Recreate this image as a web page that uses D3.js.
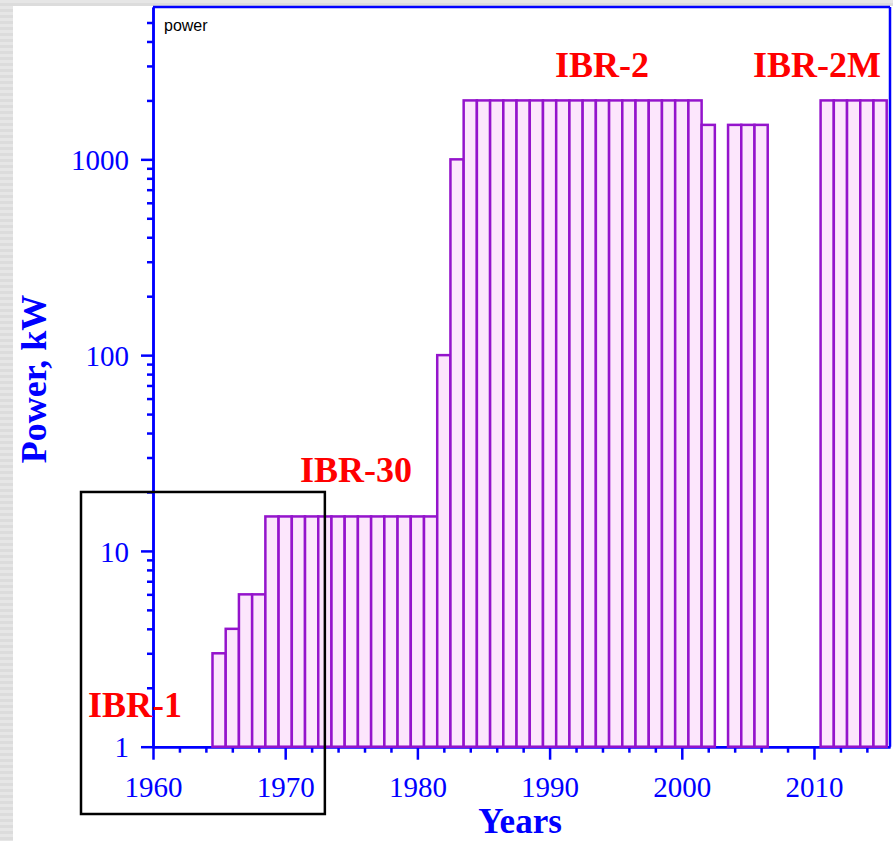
<!DOCTYPE html>
<html>
<head>
<meta charset="utf-8">
<script src="https://cdn.jsdelivr.net/npm/d3@7"></script>
<style>
  html, body { margin: 0; padding: 0; background: #ffffff; }
  svg { display: block; }
</style>
</head>
<body>
<script>
// ---- Data ----
const years = [1960,1961,1962,1963,1964,1965,1966,1967,1968,1969,1970,1971,1972,1973,1974,1975,1976,1977,1978,1979,
  1980,1981,1982,1983,1984,1985,1986,1987,1988,1989,1990,1991,1992,1993,1994,1995,1996,1997,1998,1999,
  2000,2001,2002,2003,2004,2005,2006,2007,2008,2009,2010,2011,2012,2013,2014,2015];
const power = [1,1,1,1,1,3,4,6,6,15,15,15,15,15,15,15,15,15,15,15,
  15,15,100,1000,2000,2000,2000,2000,2000,2000,2000,2000,2000,2000,2000,2000,2000,2000,2000,2000,
  2000,2000,1500,null,1500,1500,1500,1,1,1,1,2000,2000,2000,2000,2000];
const xTicksMajor = [1960, 1970, 1980, 1990, 2000, 2010];
const xTicksMinor = [1962,1964,1966,1968,1972,1974,1976,1978,1982,1984,1986,1988,1992,1994,1996,1998,2002,2004,2006,2008,2012,2014];
const yTicksMajor = [1, 10, 100, 1000];
const yTicksMinor = [2,3,4,5,6,7,8,9,20,30,40,50,60,70,80,90,200,300,400,500,600,700,800,900,2000,3000,4000,5000];
const reactorLabels = ["IBR-1", "IBR-30", "IBR-2", "IBR-2M"];

// ---- Layout ----
const W = 893, H = 841;
const pLeft = 153, pRight = 890, pTop = 7, pBottom = 746.7;
const blue = "#0000ff", purple = "#9414cc", pink = "#fce6fc", red = "#ff0000";
const serif = "'Liberation Serif', 'Times New Roman', serif";

const svg = d3.select("body").append("svg").attr("width", W).attr("height", H);

// slide background strips
const defs = svg.append("defs");
const pat = defs.append("pattern").attr("id", "stripes").attr("patternUnits", "userSpaceOnUse")
  .attr("width", 8).attr("height", 6);
pat.append("rect").attr("width", 8).attr("height", 6).attr("fill", "#e6e6e6");
pat.append("rect").attr("y", 3).attr("width", 8).attr("height", 3).attr("fill", "#dcdcdc");
svg.append("rect").attr("width", W).attr("height", H).attr("fill", "url(#stripes)");
svg.append("rect").attr("x", 13).attr("y", 6).attr("width", W - 13).attr("height", H - 6).attr("fill", "#ffffff");

defs.append("clipPath").attr("id", "plotclip").append("rect")
  .attr("x", pLeft).attr("y", pTop - 2).attr("width", pRight - pLeft).attr("height", pBottom - pTop + 4);

const x = d3.scaleLinear().domain([1960, 2015.75]).range([pLeft, pRight]);
const y = d3.scaleLog().domain([1, 6000]).range([pBottom, pTop]);

// frame (top and right)
svg.append("line").attr("x1", pLeft).attr("x2", pRight).attr("y1", pTop).attr("y2", pTop)
  .attr("stroke", blue).attr("stroke-width", 2.5);
svg.append("line").attr("x1", pRight).attr("x2", pRight).attr("y1", pTop).attr("y2", pBottom)
  .attr("stroke", blue).attr("stroke-width", 2.5);

// axes
function styleAxis(g) {
  g.select(".domain").attr("stroke", blue).attr("stroke-width", 2.5);
  g.selectAll(".tick line").attr("stroke", blue).attr("stroke-width", 2.5);
  g.selectAll(".tick text").attr("fill", blue).attr("font-family", serif).attr("font-size", 29);
}
const yAxisMinor = svg.append("g").attr("transform", `translate(${pLeft},0)`)
  .call(d3.axisLeft(y).tickValues(yTicksMinor).tickSize(6).tickSizeOuter(0).tickFormat(""));
styleAxis(yAxisMinor);
const yAxis = svg.append("g").attr("transform", `translate(${pLeft},0)`)
  .call(d3.axisLeft(y).tickValues(yTicksMajor).tickSize(12).tickSizeOuter(0).tickPadding(12).tickFormat(d3.format("d")));
styleAxis(yAxis);
yAxis.selectAll(".tick text").attr("dy", "0.35em");

const xAxisMinor = svg.append("g").attr("transform", `translate(0,${pBottom})`)
  .call(d3.axisBottom(x).tickValues(xTicksMinor).tickSize(6).tickSizeOuter(0).tickFormat(""));
styleAxis(xAxisMinor);
const xAxis = svg.append("g").attr("transform", `translate(0,${pBottom})`)
  .call(d3.axisBottom(x).tickValues(xTicksMajor).tickSize(13).tickSizeOuter(0).tickPadding(17).tickFormat(d3.format("d")));
styleAxis(xAxis);

// bars
const data = years.map((yr, i) => ({ year: yr, value: power[i] })).filter(d => d.value != null);
svg.append("g").attr("clip-path", "url(#plotclip)")
  .selectAll("rect").data(data).join("rect")
  .attr("x", d => x(d.year - 0.5))
  .attr("width", d => x(d.year + 0.5) - x(d.year - 0.5))
  .attr("y", d => y(d.value))
  .attr("height", d => y(1) - y(d.value))
  .attr("fill", d => d.value > 1 ? pink : "none")
  .attr("stroke", purple)
  .attr("stroke-width", 2.5);

// "power" legend text
svg.append("text").attr("x", 164).attr("y", 31).text("power")
  .attr("font-family", "'Liberation Sans', Arial, sans-serif").attr("font-size", 16).attr("fill", "#000");

// axis titles
svg.append("text").attr("transform", `translate(46,379) rotate(-90)`).attr("text-anchor", "middle")
  .attr("font-family", serif).attr("font-weight", "bold").attr("font-size", 36).attr("fill", blue)
  .text("Power, kW");
svg.append("text").attr("x", 520).attr("y", 833).attr("text-anchor", "middle")
  .attr("font-family", serif).attr("font-weight", "bold").attr("font-size", 35).attr("fill", blue)
  .text("Years");

// black annotation rectangle around IBR-1 era
svg.append("rect").attr("x", 81).attr("y", y(20)).attr("width", x(1973) - 81).attr("height", 814 - y(20))
  .attr("fill", "none").attr("stroke", "#000").attr("stroke-width", 2.5);

// reactor labels
const labelPos = [[88, 717], [300, 482], [555, 77], [753, 77]];
svg.append("g").selectAll("text").data(reactorLabels).join("text")
  .attr("x", (d, i) => labelPos[i][0]).attr("y", (d, i) => labelPos[i][1])
  .attr("font-family", serif).attr("font-weight", "bold").attr("font-size", 36).attr("fill", red)
  .text(d => d);
</script>
</body>
</html>
